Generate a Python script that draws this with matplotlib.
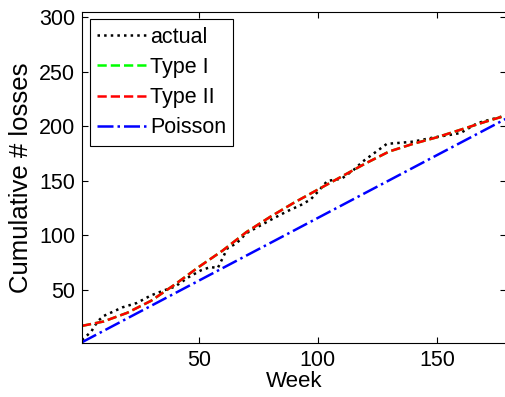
import matplotlib.pyplot as plt

plt.rcParams['font.family'] = ['Liberation Sans', 'DejaVu Sans']

# === Data ===
actual_weeks = [1, 3, 5, 6, 8, 10, 13, 18, 21, 24, 30, 36, 40, 46, 51, 55, 58, 62, 66,
                70, 75, 80, 87, 93, 97, 100, 104, 110, 115, 119, 124, 129, 135, 140,
                149, 155, 160, 167, 172, 179]
actual_losses = [4, 8, 12, 16, 22, 26, 29, 34, 36, 38, 45, 50, 53, 62, 68, 71, 70, 88, 93,
                 102, 108, 114, 122, 128, 133, 140, 150, 152, 160, 168, 176, 184, 185, 186,
                 190, 192, 194, 203, 206, 210]

model_weeks = [1, 10, 20, 30, 40, 50, 60, 70, 80, 90, 100, 110, 120, 130, 140, 150, 160, 170, 179]
type1_losses = [17, 21, 29, 40, 55, 71, 86, 103, 117, 130, 142, 154, 166, 177, 184, 190, 197, 204, 210]
type2_losses = [17, 21, 29, 40, 55, 71, 86, 103, 117, 130, 142, 154, 166, 177, 184, 190, 197, 204, 210]

poisson_weeks = [1, 179]
poisson_losses = [2, 207]

# === Plotting ===
fig = plt.figure(figsize=(5.06, 3.97), dpi=100)
ax = fig.add_axes([0.162, 0.136, 0.838, 0.834])

ax.plot(actual_weeks, actual_losses, 'k:', lw=1.8, label='actual')
ax.plot(model_weeks, type1_losses, '--', color='#00ff00', lw=1.8, label='Type I')
ax.plot(model_weeks, type2_losses, '--', color='#ff0000', lw=1.8, label='Type II')
ax.plot(poisson_weeks, poisson_losses, '-.', color='#0000ff', lw=1.8, label='Poisson')

ax.set_xlim(1, 179)
ax.set_ylim(1.3, 305)
ax.set_xticks([50, 100, 150])
ax.set_yticks([50, 100, 150, 200, 250, 300])
ax.tick_params(direction='in', top=True, right=True, labelsize=15.5, length=4, pad=5)
ax.set_xlabel('Week', fontsize=16, labelpad=0)
ax.set_ylabel('Cumulative # losses', fontsize=18.5, labelpad=4)

leg = ax.legend(loc='upper left', fontsize=15.5, handlelength=2.3, handletextpad=0.15,
                borderaxespad=0.35, borderpad=0.35, labelspacing=0.42, fancybox=False,
                framealpha=1)
leg.get_frame().set_edgecolor('black')
leg.get_frame().set_linewidth(0.8)

plt.savefig('out.png', dpi=100)
